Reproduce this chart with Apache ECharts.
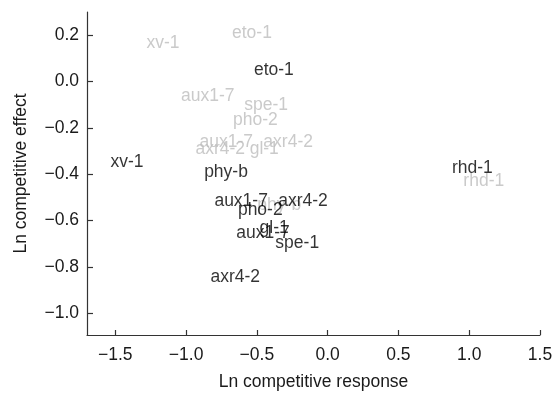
<!DOCTYPE html>
<html>
<head>
<meta charset="utf-8">
<script src="https://cdn.jsdelivr.net/npm/echarts@6/dist/echarts.min.js"></script>
<style>html,body{margin:0;padding:0;background:#fff;}#c{width:554px;height:393px;}</style>
</head>
<body>
<div id="c"></div>
<script>
// Black labels (one treatment)
const blackNames = ['eto-1','xv-1','phy-b','aux1-7','axr4-2','pho-2','gl-1','aux1-7','spe-1','axr4-2','rhd-1'];
const blackX = [-0.380,-1.417,-0.718,-0.611,-0.174,-0.476,-0.378,-0.457,-0.215,-0.653,1.022];
const blackY = [0.047,-0.349,-0.391,-0.515,-0.515,-0.554,-0.633,-0.654,-0.696,-0.845,-0.373];
// Gray labels (other treatment)
const grayNames = ['eto-1','xv-1','aux1-7','spe-1','pho-2','aux1-7','axr4-2','axr4-2','gl-1','rhd-1','phy-b'];
const grayX = [-0.535,-1.163,-0.847,-0.435,-0.510,-0.716,-0.279,-0.759,-0.448,1.103,-0.342];
const grayY = [0.207,0.165,-0.062,-0.102,-0.166,-0.260,-0.260,-0.290,-0.290,-0.431,-0.532];
// Ticks
const xTicks = [-1.5,-1.0,-0.5,0.0,0.5,1.0,1.5];
const yTicks = [0.2,0.0,-0.2,-0.4,-0.6,-0.8,-1.0];

const FONT = '"Liberation Sans", Arial, Helvetica, sans-serif';
const fmt = v => (v < 0 ? '\u2212' : '') + Math.abs(v).toFixed(1);

function mk(names, xs, ys, color, z) {
  return {
    type: 'scatter',
    z: z,
    symbol: 'circle',
    symbolSize: 1,
    itemStyle: { color: 'rgba(0,0,0,0)' },
    silent: true,
    label: {
      show: true,
      position: 'inside',
      formatter: p => p.data[2],
      color: color,
      fontSize: 17.5,
      fontFamily: FONT
    },
    emphasis: { disabled: true },
    data: names.map((n, i) => [xs[i], ys[i], n])
  };
}

const chart = echarts.init(document.getElementById('c'), null, { renderer: 'canvas' });
chart.setOption({
  animation: false,
  backgroundColor: '#ffffff',
  grid: { left: 87, right: 14, top: 12, bottom: 58, containLabel: false, outerBoundsMode: 'none' },
  xAxis: {
    type: 'value', min: -1.70, max: 1.5,
    axisLine: { show: true, onZero: false, lineStyle: { color: '#333', width: 1.2 } },
    axisTick: { show: true, inside: true, length: 5, customValues: xTicks, lineStyle: { color: '#333', width: 1.2 } },
    axisLabel: { customValues: xTicks, formatter: fmt, fontSize: 17.5, fontFamily: FONT, color: '#1a1a1a', margin: 11 },
    splitLine: { show: false },
    name: 'Ln competitive response', nameLocation: 'middle', nameGap: 38,
    nameTextStyle: { fontSize: 17.5, fontFamily: FONT, color: '#1a1a1a' }
  },
  yAxis: {
    type: 'value', min: -1.094, max: 0.30,
    axisLine: { show: true, onZero: false, lineStyle: { color: '#333', width: 1.2 } },
    axisTick: { show: true, inside: true, length: 6, customValues: yTicks, lineStyle: { color: '#333', width: 1.2 } },
    axisLabel: { customValues: yTicks, formatter: fmt, fontSize: 17.5, fontFamily: FONT, color: '#1a1a1a', margin: 8 },
    splitLine: { show: false },
    name: 'Ln competitive effect', nameLocation: 'middle', nameGap: 57,
    nameTextStyle: { fontSize: 17.5, fontFamily: FONT, color: '#1a1a1a' }
  },
  series: [
    mk(grayNames, grayX, grayY, '#bdbdbd', 2),
    mk(blackNames, blackX, blackY, '#000000', 3)
  ]
});
</script>
</body>
</html>
